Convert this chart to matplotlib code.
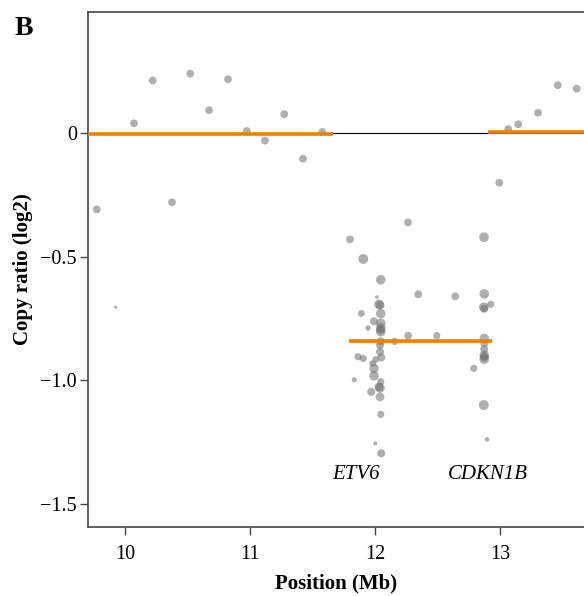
import matplotlib
matplotlib.use("Agg")
import matplotlib.pyplot as plt
import numpy as np

# ---- data ----
bin_x = [9.774, 9.926, 10.072, 10.222, 10.376, 10.522, 10.672, 10.824, 10.974, 11.120,
         11.274, 11.424, 11.578, 11.800,
         12.264, 12.872, 12.994, 13.066, 13.146, 13.304, 13.462, 13.614,
         11.906, 12.046, 12.014, 12.032, 12.040, 12.046, 11.890, 12.346, 12.642, 12.874,
         12.870, 12.874, 12.926, 11.992, 12.046, 11.944, 12.046, 12.046, 12.046, 12.046,
         12.158, 12.266, 12.494, 12.874, 12.874, 12.874, 12.874, 12.874, 12.874, 12.790,
         12.870, 12.896, 12.040, 12.040, 11.864, 11.906, 12.006, 12.050, 11.982, 11.992,
         11.834, 11.992, 12.046, 12.040, 12.032, 11.970, 12.040, 12.046, 12.002, 12.050]
bin_y = [-0.309, -0.704, 0.039, 0.212, -0.280, 0.240, 0.092, 0.217, 0.008, -0.031,
         0.076, -0.104, 0.004, -0.430,
         -0.361, -0.421, -0.201, 0.016, 0.035, 0.082, 0.193, 0.179,
         -0.509, -0.593, -0.663, -0.692, -0.696, -0.730, -0.729, -0.652, -0.660, -0.650,
         -0.704, -0.710, -0.692, -0.761, -0.769, -0.788, -0.787, -0.795, -0.803, -0.842,
         -0.842, -0.819, -0.819, -0.830, -0.850, -0.874, -0.898, -0.905, -0.914, -0.951,
         -1.099, -1.238, -0.857, -0.884, -0.904, -0.911, -0.915, -0.907, -0.931, -0.951,
         -0.997, -0.981, -1.005, -1.030, -1.026, -1.046, -1.066, -1.137, -1.254, -1.294]
bin_weight = [23, 4, 23, 23, 23, 23, 23, 23, 23, 23,
              23, 23, 23, 23,
              23, 36, 23, 23, 23, 23, 23, 23,
              38, 35, 5, 35, 30, 35, 18, 23, 23, 35,
              35, 25, 20, 25, 35, 12, 35, 30, 35, 25,
              20, 23, 20, 35, 25, 25, 35, 30, 35, 20,
              38, 8, 25, 25, 20, 20, 18, 25, 18, 35,
              10, 35, 20, 35, 30, 25, 30, 20, 6, 25]

seg_start = [9.60, 11.792, 12.904]
seg_end = [11.664, 12.936, 13.80]
seg_value = [-0.006, -0.842, 0.004]

gene_names = ["ETV6", "CDKN1B"]
gene_x = [11.848, 12.904]
gene_y = [-1.378, -1.378]

xticks = [10, 11, 12, 13]
yticks = [0, -0.5, -1.0, -1.5]
ytick_labels = ["0", "\u22120.5", "\u22121.0", "\u22121.5"]

# ---- plot ----
plt.rcParams['font.family'] = ['Liberation Serif', 'DejaVu Serif']
fig = plt.figure(figsize=(5.84, 5.96), dpi=100)
ax = fig.add_axes([88/584, 1 - 527/596, 1 - 88/584, (527 - 11.7)/596])

ax.axhline(0, color='black', lw=0.8, zorder=1)
ax.scatter(bin_x, bin_y, s=np.array(bin_weight) * 1.35, color='#6e6e6e', alpha=0.55,
           linewidths=0, zorder=2)
ax.hlines(seg_value, seg_start, seg_end, color='#f08000', lw=2.6,
          zorder=3, capstyle='butt')

for name, gx, gy in zip(gene_names, gene_x, gene_y):
    ax.text(gx, gy, name, style='italic', fontsize=15, ha='center', va='center')

ax.set_xlim(9.704, 13.672)
ax.set_ylim(-1.592, 0.490)
ax.set_xticks(xticks)
ax.set_xticklabels([str(t) for t in xticks])
ax.set_yticks(yticks)
ax.set_yticklabels(ytick_labels)

for side in ['left', 'bottom', 'top']:
    ax.spines[side].set_color('#444444')
    ax.spines[side].set_linewidth(1.2)
ax.spines['right'].set_visible(False)
ax.tick_params(axis='both', length=6, width=1.0, color='#444444', labelsize=14.5)
ax.tick_params(axis='x', pad=7)
ax.tick_params(axis='y', pad=2)

ax.set_xlabel("Position (Mb)", fontsize=15, fontweight='bold', labelpad=7)
ax.set_ylabel("Copy ratio (log2)", fontsize=15, fontweight='bold', labelpad=5)

fig.text(15/584, 1 - 35/596, "B", fontsize=20, fontweight='bold', ha='left', va='baseline')

fig.savefig("out.png", dpi=100)
